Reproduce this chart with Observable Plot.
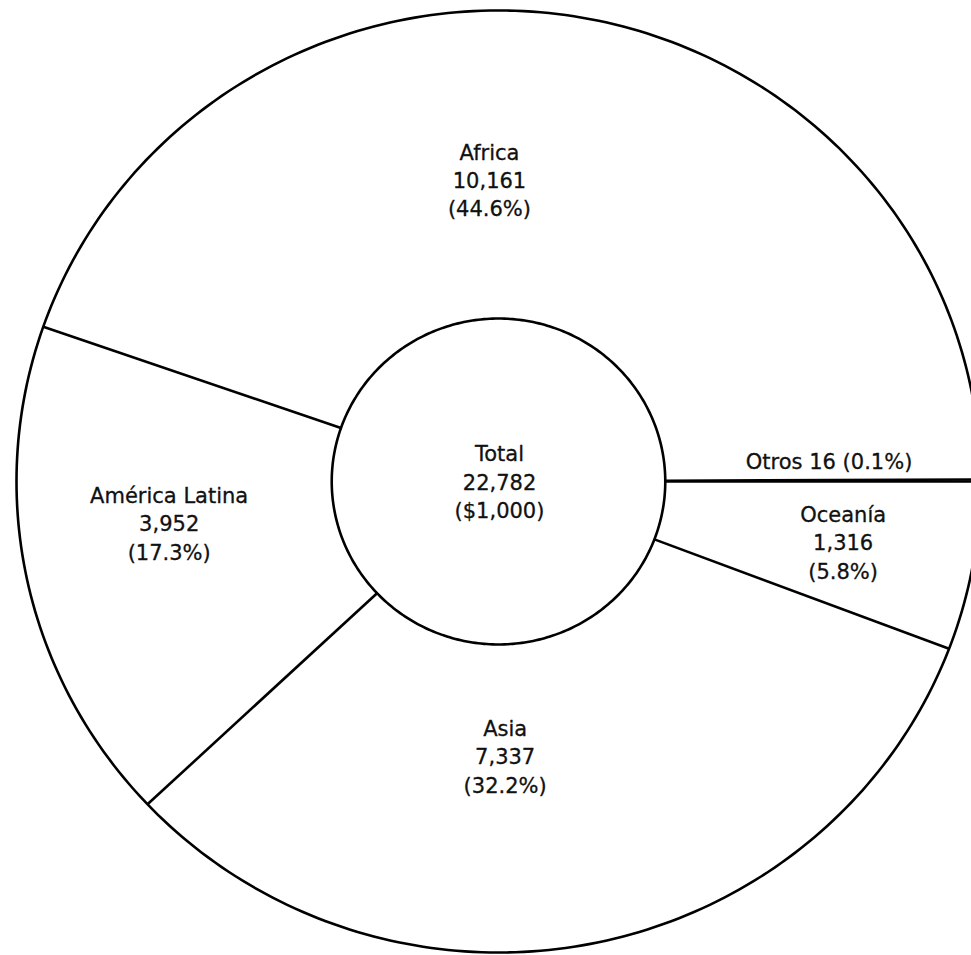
<!DOCTYPE html>
<html>
<head>
<meta charset="utf-8">
<script src="https://cdn.jsdelivr.net/npm/d3@7"></script>
<script src="https://cdn.jsdelivr.net/npm/@observablehq/plot@0.6"></script>
<style>
  html, body { margin: 0; padding: 0; background: #fff; }
  #chart svg { display: block; }
</style>
</head>
<body>
<div id="chart"></div>
<script>
// ---- data ----
const regions = ["Oceanía", "Asia", "América Latina", "Africa", "Otros"];
const values  = [1316, 7337, 3952, 10161, 16];
const totalLabel = "Total";
const totalUnit  = "($1,000)";

// ---- layout / style parameters ----
const W = 971, H = 955;
const cx = 498, cy = 481, rxPx = 482, ryPx = 471; // outer ellipse in pixels
const innerR = 0.346;                               // inner radius (unit of outer)
const labelStyle = {                                 // radial position and nudges
  "Oceanía":        {r: 0.727, dx: 0,   dy: -2},
  "Asia":           {r: 0.582, dx: -48, dy: 5},
  "América Latina": {r: 0.688, dx: -5,  dy: -27},
  "Africa":         {r: 0.643, dx: -60, dy: -4},
  "Otros":          {r: 0.69,  dx: -2,  dy: -21}
};

const rows = regions.map((name, i) => ({name, value: values[i]}));
const total = d3.sum(values);
const fmt = d3.format(",");
const pct = v => (v / total * 100).toFixed(1) + "%";

// d3.pie angles are clockwise from 12 o'clock; start at 3 o'clock
const arcs = d3.pie().sort(null).value(d => d.value)
  .startAngle(Math.PI / 2).endAngle(Math.PI / 2 + 2 * Math.PI)(rows);
// convert to clockwise-from-right screen angle -> unit coords (y up)
const pt = (a, r) => ({x: r * Math.cos(a - Math.PI / 2), y: -r * Math.sin(a - Math.PI / 2)});

const boundaries = arcs.map(a => {
  const p1 = pt(a.startAngle, innerR), p2 = pt(a.startAngle, 1);
  return {x1: p1.x, y1: p1.y, x2: p2.x, y2: p2.y};
});

const labels = arcs.map(a => {
  const name = a.data.name;
  const s = labelStyle[name];
  const p = pt((a.startAngle + a.endAngle) / 2, s.r);
  const text = name === "Otros"
    ? `${name} ${fmt(a.data.value)} (${pct(a.data.value)})`
    : `${name}\n${fmt(a.data.value)}\n(${pct(a.data.value)})`;
  return {x: p.x, y: p.y, text, dx: s.dx, dy: s.dy};
});

const circle = r => d3.range(0, 361, 1).map(t => ({
  x: r * Math.cos(t * Math.PI / 180), y: r * Math.sin(t * Math.PI / 180)
}));

const textOpts = {fontSize: 21, lineHeight: 1.35, fill: "#111", stroke: "#111", strokeWidth: 0.3,
                  textAnchor: "middle", lineAnchor: "middle"};
const textMarks = labels.map(l => Plot.text([l], {
  x: "x", y: "y", text: "text", dx: l.dx, dy: l.dy, ...textOpts
}));

const chart = Plot.plot({
  width: W, height: H,
  marginTop: 0, marginRight: 0, marginBottom: 0, marginLeft: 0,
  style: {fontFamily: "'DejaVu Sans', Verdana, sans-serif", background: "#fff"},
  x: {domain: [-cx / rxPx, (W - cx) / rxPx], axis: null},
  y: {domain: [(cy - H) / ryPx, cy / ryPx], axis: null},
  marks: [
    Plot.line(circle(1), {x: "x", y: "y", stroke: "#000", strokeWidth: 2.6}),
    Plot.line(circle(innerR), {x: "x", y: "y", stroke: "#000", strokeWidth: 2.6}),
    Plot.link(boundaries, {x1: "x1", y1: "y1", x2: "x2", y2: "y2", stroke: "#000", strokeWidth: 2.6}),
    ...textMarks,
    Plot.text([{x: 0, y: 0, text: `${totalLabel}\n${fmt(total)}\n${totalUnit}`}], {
      x: "x", y: "y", text: "text", dx: 1, dy: -1, ...textOpts
    })
  ]
});
document.getElementById("chart").appendChild(chart);
</script>
</body>
</html>
